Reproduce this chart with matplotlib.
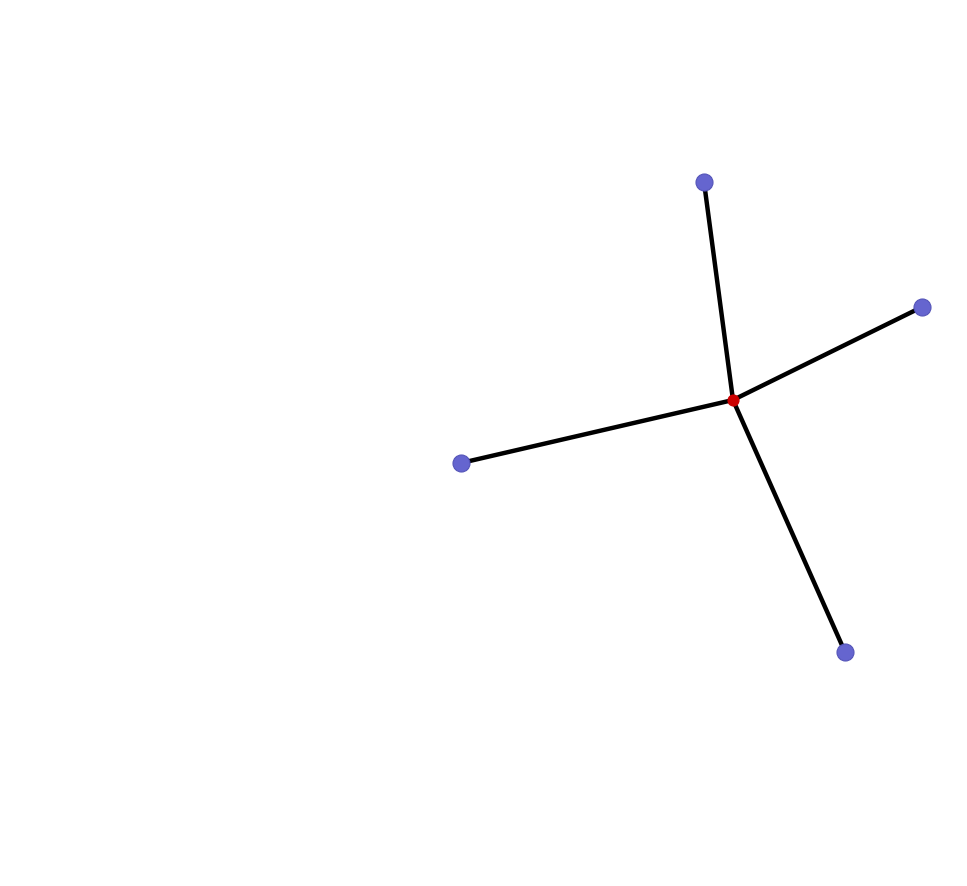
import matplotlib
matplotlib.use("Agg")
import matplotlib.pyplot as plt

# node positions (image pixel coordinates)
center_x = 733
center_y = 400
leaf_x = [704, 922, 461, 845]
leaf_y = [182, 307, 463, 652]

fig = plt.figure(figsize=(9.67, 8.86), dpi=100)
ax = fig.add_axes([0, 0, 1, 1])
ax.set_xlim(0, 967)
ax.set_ylim(886, 0)
ax.axis("off")

for x, y in zip(leaf_x, leaf_y):
    ax.plot([center_x, x], [center_y, y], color="black", lw=3.2,
            solid_capstyle="round", zorder=1)

ax.scatter(leaf_x, leaf_y, s=150, color="#6565cf", edgecolors="#5454b8",
           linewidths=0.8, zorder=2)
ax.scatter([center_x], [center_y], s=60, color="#cc0000", zorder=3)

fig.savefig("out.png", dpi=100)
